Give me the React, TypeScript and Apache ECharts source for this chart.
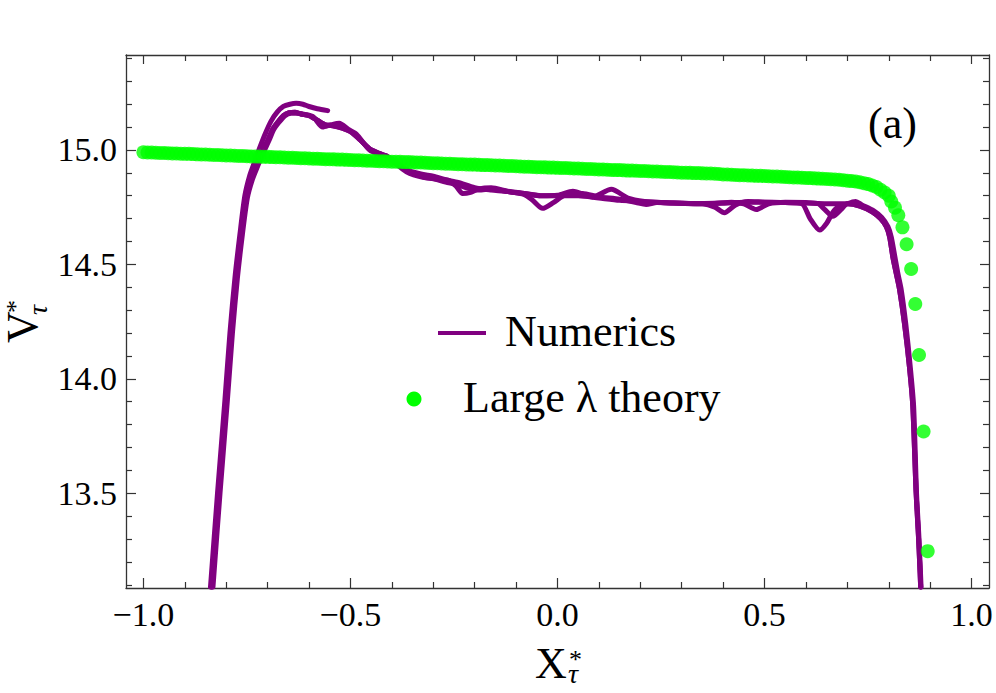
import React, { useEffect, useRef } from "react";
import * as echarts from "echarts";

// ---------- data ----------
const X_MIN = -1.042;
const X_MAX = 1.042;
const Y_MIN = 13.086;
const Y_MAX = 15.415;

const xMajorTicks = [-1.0, -0.5, 0.0, 0.5, 1.0];
const xMinorTicks = [-0.9, -0.8, -0.7, -0.6, -0.4, -0.3, -0.2, -0.1, 0.1, 0.2, 0.3, 0.4, 0.6, 0.7, 0.8, 0.9];
const yMajorTicks = [13.5, 14.0, 14.5, 15.0];
const yMinorTicks = [13.1, 13.2, 13.3, 13.4, 13.6, 13.7, 13.8, 13.9, 14.1, 14.2, 14.3, 14.4, 14.6, 14.7, 14.8, 14.9, 15.1, 15.2, 15.3, 15.4];

// Large lambda theory (green dots)
const theoryX = [
  -1.0, -0.99, -0.98, -0.97, -0.96, -0.95, -0.94, -0.93, -0.92, -0.91,
  -0.9, -0.89, -0.88, -0.87, -0.86, -0.85, -0.84, -0.83, -0.82, -0.81,
  -0.8, -0.79, -0.78, -0.77, -0.76, -0.75, -0.74, -0.73, -0.72, -0.71,
  -0.7, -0.69, -0.68, -0.67, -0.66, -0.65, -0.64, -0.63, -0.62, -0.61,
  -0.6, -0.59, -0.58, -0.57, -0.56, -0.55, -0.54, -0.53, -0.52, -0.51,
  -0.5, -0.49, -0.48, -0.47, -0.46, -0.45, -0.44, -0.43, -0.42, -0.41,
  -0.4, -0.39, -0.38, -0.37, -0.36, -0.35, -0.34, -0.33, -0.32, -0.31,
  -0.3, -0.29, -0.28, -0.27, -0.26, -0.25, -0.24, -0.23, -0.22, -0.21,
  -0.2, -0.19, -0.18, -0.17, -0.16, -0.15, -0.14, -0.13, -0.12, -0.11,
  -0.1, -0.09, -0.08, -0.07, -0.06, -0.05, -0.04, -0.03, -0.02, -0.01,
  0.0, 0.01, 0.02, 0.03, 0.04, 0.05, 0.06, 0.07, 0.08, 0.09,
  0.1, 0.11, 0.12, 0.13, 0.14, 0.15, 0.16, 0.17, 0.18, 0.19,
  0.2, 0.21, 0.22, 0.23, 0.24, 0.25, 0.26, 0.27, 0.28, 0.29,
  0.3, 0.31, 0.32, 0.33, 0.34, 0.35, 0.36, 0.37, 0.38, 0.39,
  0.4, 0.41, 0.42, 0.43, 0.44, 0.45, 0.46, 0.47, 0.48, 0.49,
  0.5, 0.51, 0.52, 0.53, 0.54, 0.55, 0.56, 0.57, 0.58, 0.59,
  0.6, 0.61, 0.62, 0.63, 0.64, 0.65, 0.66, 0.67, 0.68, 0.69,
  0.7, 0.71, 0.72, 0.73, 0.74, 0.75, 0.76, 0.77, 0.78, 0.79,
  0.8, 0.806, 0.815, 0.823, 0.833, 0.843, 0.854, 0.864, 0.873, 0.884, 0.894,
];
const theoryY = [
  14.99, 14.989, 14.989, 14.988, 14.987, 14.987, 14.986, 14.985, 14.985, 14.984,
  14.983, 14.983, 14.982, 14.981, 14.98, 14.98, 14.979, 14.978, 14.978, 14.977,
  14.976, 14.976, 14.975, 14.974, 14.974, 14.973, 14.972, 14.972, 14.971, 14.97,
  14.97, 14.969, 14.968, 14.968, 14.967, 14.966, 14.966, 14.965, 14.964, 14.964,
  14.963, 14.962, 14.962, 14.961, 14.96, 14.96, 14.959, 14.958, 14.958, 14.957,
  14.956, 14.955, 14.955, 14.954, 14.953, 14.953, 14.952, 14.951, 14.951, 14.95,
  14.949, 14.949, 14.948, 14.947, 14.947, 14.946, 14.945, 14.945, 14.944, 14.943,
  14.942, 14.942, 14.941, 14.94, 14.94, 14.939, 14.938, 14.938, 14.937, 14.936,
  14.936, 14.935, 14.934, 14.934, 14.933, 14.932, 14.932, 14.931, 14.93, 14.93,
  14.929, 14.928, 14.927, 14.927, 14.926, 14.925, 14.925, 14.924, 14.923, 14.923,
  14.922, 14.921, 14.921, 14.92, 14.919, 14.919, 14.918, 14.917, 14.917, 14.916,
  14.915, 14.915, 14.914, 14.913, 14.912, 14.912, 14.911, 14.91, 14.91, 14.909,
  14.908, 14.908, 14.907, 14.906, 14.906, 14.905, 14.904, 14.904, 14.903, 14.902,
  14.901, 14.901, 14.9, 14.899, 14.899, 14.898, 14.897, 14.897, 14.896, 14.895,
  14.893, 14.893, 14.892, 14.891, 14.89, 14.89, 14.889, 14.888, 14.887, 14.887,
  14.886, 14.885, 14.884, 14.884, 14.883, 14.882, 14.881, 14.88, 14.88, 14.879,
  14.878, 14.877, 14.876, 14.875, 14.874, 14.873, 14.872, 14.871, 14.87, 14.868,
  14.866, 14.864, 14.862, 14.859, 14.855, 14.851, 14.845, 14.838, 14.826, 14.814,
  14.8, 14.775, 14.748, 14.715, 14.662, 14.588, 14.48, 14.327, 14.104, 13.77, 13.247,
];

// Numerics (purple curves)
const numericsA: [number, number][] = [
  [-0.835, 13.09], [-0.818, 13.5], [-0.8, 13.91], [-0.788, 14.2], [-0.776, 14.44], [-0.764, 14.63], [-0.752, 14.79],
  [-0.74, 14.87], [-0.728, 14.92], [-0.714, 14.99], [-0.7, 15.04], [-0.688, 15.09], [-0.676, 15.12], [-0.662, 15.15],
  [-0.648, 15.163], [-0.634, 15.165], [-0.62, 15.157], [-0.6, 15.15], [-0.58, 15.13], [-0.56, 15.11], [-0.54, 15.105],
  [-0.527, 15.1], [-0.5, 15.08], [-0.48, 15.05], [-0.454, 15.005], [-0.43, 14.985], [-0.414, 14.975], [-0.39, 14.945],
  [-0.365, 14.91], [-0.345, 14.895], [-0.325, 14.883], [-0.3, 14.875], [-0.27, 14.86], [-0.245, 14.85], [-0.22, 14.835],
  [-0.19, 14.825], [-0.16, 14.83], [-0.12, 14.818], [-0.08, 14.81], [-0.04, 14.8], [0.0, 14.8], [0.05, 14.8],
  [0.1, 14.79], [0.15, 14.78], [0.2, 14.775], [0.25, 14.77], [0.3, 14.767], [0.35, 14.765], [0.4, 14.767],
  [0.45, 14.772], [0.5, 14.772], [0.55, 14.77], [0.6, 14.768], [0.65, 14.765], [0.7, 14.765], [0.73, 14.755],
  [0.76, 14.73], [0.78, 14.7], [0.794, 14.665], [0.802, 14.62], [0.81, 14.53], [0.818, 14.46], [0.826, 14.39],
  [0.838, 14.24], [0.85, 14.05], [0.858, 13.88], [0.866, 13.5], [0.872, 13.3], [0.877, 13.09],
];
const numericsB: [number, number][] = [
  [-0.832, 13.09], [-0.815, 13.5], [-0.797, 13.91], [-0.785, 14.2], [-0.773, 14.44], [-0.761, 14.63], [-0.749, 14.79],
  [-0.737, 14.87], [-0.724, 14.93], [-0.71, 14.99], [-0.697, 15.04], [-0.685, 15.09], [-0.673, 15.12], [-0.658, 15.15],
  [-0.643, 15.16], [-0.628, 15.16], [-0.61, 15.155], [-0.59, 15.145], [-0.567, 15.1], [-0.547, 15.11], [-0.527, 15.117],
  [-0.505, 15.09], [-0.486, 15.07], [-0.454, 15.0], [-0.43, 14.98], [-0.414, 14.975], [-0.39, 14.94], [-0.365, 14.905],
  [-0.325, 14.88], [-0.29, 14.872], [-0.262, 14.866], [-0.245, 14.842], [-0.229, 14.81], [-0.21, 14.815], [-0.19, 14.83],
  [-0.16, 14.835], [-0.12, 14.82], [-0.08, 14.81], [-0.04, 14.8], [0.0, 14.802], [0.037, 14.82], [0.085, 14.795],
  [0.13, 14.828], [0.17, 14.79], [0.21, 14.775], [0.25, 14.77], [0.3, 14.767], [0.35, 14.765], [0.38, 14.75],
  [0.403, 14.726], [0.43, 14.76], [0.46, 14.775], [0.5, 14.772], [0.55, 14.77], [0.59, 14.765], [0.61, 14.7],
  [0.633, 14.65], [0.65, 14.68], [0.67, 14.74], [0.7, 14.765], [0.72, 14.775], [0.735, 14.76], [0.763, 14.735],
  [0.783, 14.705], [0.798, 14.665], [0.806, 14.62], [0.815, 14.53], [0.822, 14.46], [0.83, 14.39], [0.841, 14.24],
  [0.852, 14.05], [0.86, 13.88], [0.867, 13.5], [0.873, 13.3], [0.878, 13.09],
];
const numericsC: [number, number][] = [
  [-0.838, 13.09], [-0.821, 13.5], [-0.803, 13.91], [-0.791, 14.2], [-0.779, 14.44], [-0.767, 14.63], [-0.755, 14.8],
  [-0.743, 14.89], [-0.731, 14.95], [-0.719, 15.01], [-0.706, 15.07], [-0.692, 15.125], [-0.677, 15.165],
  [-0.662, 15.19], [-0.646, 15.2], [-0.631, 15.204], [-0.615, 15.2], [-0.6, 15.19], [-0.58, 15.18], [-0.555, 15.172],
];
const numericsD: [number, number][] = [
  [-0.835, 13.09], [-0.818, 13.5], [-0.8, 13.91], [-0.788, 14.2], [-0.776, 14.44], [-0.764, 14.63], [-0.752, 14.79],
  [-0.74, 14.87], [-0.728, 14.92], [-0.714, 14.99], [-0.7, 15.04], [-0.688, 15.09], [-0.676, 15.12], [-0.662, 15.15],
  [-0.648, 15.163], [-0.634, 15.165], [-0.62, 15.157], [-0.6, 15.15], [-0.58, 15.13], [-0.56, 15.11], [-0.54, 15.105],
  [-0.52, 15.095], [-0.5, 15.08], [-0.48, 15.05], [-0.454, 15.005], [-0.43, 14.985], [-0.4, 14.96], [-0.365, 14.915],
  [-0.33, 14.895], [-0.3, 14.885], [-0.27, 14.87], [-0.24, 14.858], [-0.2, 14.835], [-0.16, 14.825], [-0.12, 14.818],
  [-0.08, 14.805], [-0.06, 14.78], [-0.036, 14.745], [-0.01, 14.77], [0.02, 14.805], [0.06, 14.81], [0.1, 14.795],
  [0.15, 14.785], [0.19, 14.77], [0.214, 14.762], [0.24, 14.77], [0.28, 14.768], [0.33, 14.765], [0.38, 14.767],
  [0.42, 14.772], [0.45, 14.765], [0.48, 14.74], [0.51, 14.765], [0.55, 14.772], [0.6, 14.77], [0.63, 14.765],
  [0.645, 14.74], [0.665, 14.71], [0.685, 14.74], [0.7, 14.765], [0.73, 14.755], [0.76, 14.73], [0.78, 14.7],
  [0.794, 14.665], [0.802, 14.62], [0.81, 14.53], [0.818, 14.46], [0.826, 14.39], [0.838, 14.24], [0.85, 14.05],
  [0.858, 13.88], [0.866, 13.5], [0.872, 13.3], [0.877, 13.09],
];

const legendLabels = ["Numerics", "Large \u03bb theory"];
const panelLabel = "(a)";

// ---------- styles ----------
const PURPLE = "#800080";
const GREEN = "#00ff00";
const FRAME = "#333333";
const SERIF = "'Liberation Serif', 'Times New Roman', serif";

const fmt = (v: number) => (v < 0 ? "\u2212" : "") + Math.abs(v).toFixed(1);

function makeAxis(kind: "x" | "y", position: string, values: number[], len: number, labels: boolean, line: boolean) {
  return {
    type: "value",
    position,
    min: kind === "x" ? X_MIN : Y_MIN,
    max: kind === "x" ? X_MAX : Y_MAX,
    axisLine: { show: line, onZero: false, lineStyle: { color: FRAME, width: 1.3 } },
    axisTick: { show: true, inside: true, length: len, customValues: values, lineStyle: { color: FRAME, width: 1.2 } },
    axisLabel: {
      show: labels,
      customValues: values,
      formatter: fmt,
      color: "#000",
      fontFamily: SERIF,
      fontSize: 34,
      margin: 9,
    },
    splitLine: { show: false },
    axisPointer: { show: false },
  };
}

export default function App() {
  const ref = useRef<HTMLDivElement>(null);

  useEffect(() => {
    if (!ref.current) return;
    const chart = echarts.init(ref.current, undefined, { renderer: "svg" });

    const lineSeries = (name: string, data: [number, number][]) => ({
      name,
      type: "line",
      data,
      xAxisIndex: 0,
      yAxisIndex: 0,
      showSymbol: false,
      symbol: "none",
      smooth: 0.25,
      lineStyle: { color: PURPLE, width: 5, cap: "round", join: "round" },
      z: 2,
      silent: true,
    });

    const option = {
      animation: false,
      backgroundColor: "#ffffff",
      grid: { left: 126, right: 7, top: 55, bottom: 105, containLabel: false },
      xAxis: [
        makeAxis("x", "bottom", xMajorTicks, 10, true, true),
        makeAxis("x", "bottom", xMinorTicks, 6, false, false),
        makeAxis("x", "top", xMajorTicks, 9, false, true),
        makeAxis("x", "top", xMinorTicks, 6, false, false),
      ],
      yAxis: [
        makeAxis("y", "left", yMajorTicks, 10, true, true),
        makeAxis("y", "left", yMinorTicks, 6, false, false),
        makeAxis("y", "right", yMajorTicks, 9, false, true),
        makeAxis("y", "right", yMinorTicks, 6, false, false),
      ],
      series: [
        lineSeries("Numerics A", numericsA),
        lineSeries("Numerics B", numericsB),
        lineSeries("Numerics C", numericsC),
        lineSeries("Numerics D", numericsD),
        {
          name: legendLabels[1],
          type: "scatter",
          xAxisIndex: 0,
          yAxisIndex: 0,
          data: theoryX.map((x, i) => [x, theoryY[i]]),
          symbol: "circle",
          symbolSize: 14,
          itemStyle: { color: GREEN },
          z: 3,
          silent: true,
        },
      ],
      graphic: [
        // legend
        { type: "line", shape: { x1: 438, y1: 333, x2: 486, y2: 333 }, style: { stroke: PURPLE, lineWidth: 4 } },
        {
          type: "text",
          x: 505,
          y: 331,
          style: { text: legendLabels[0], font: `44px ${SERIF}`, fill: "#000", align: "left", verticalAlign: "middle" },
        },
        { type: "circle", shape: { cx: 414, cy: 399, r: 7.5 }, style: { fill: GREEN } },
        {
          type: "text",
          x: 463,
          y: 397,
          style: { text: legendLabels[1], font: `44px ${SERIF}`, fill: "#000", align: "left", verticalAlign: "middle" },
        },
        // panel label
        {
          type: "text",
          x: 868,
          y: 123,
          style: { text: panelLabel, font: `44px ${SERIF}`, fill: "#000", align: "left", verticalAlign: "middle" },
        },
        // x axis title
        {
          type: "text",
          x: 535,
          y: 663,
          style: { text: "X", font: `44px ${SERIF}`, fill: "#000", align: "left", verticalAlign: "middle" },
        },
        {
          type: "text",
          x: 569,
          y: 659,
          style: { text: "*", font: `26px ${SERIF}`, lineHeight: 10, fill: "#000", align: "left", verticalAlign: "middle" },
        },
        {
          type: "text",
          x: 568,
          y: 673,
          style: { text: "\u03c4", font: `italic 28px ${SERIF}`, lineHeight: 12, fill: "#000", align: "left", verticalAlign: "middle" },
        },
        // y axis title (rotated)
        {
          type: "group",
          x: 22,
          y: 343,
          rotation: Math.PI / 2,
          children: [
            {
              type: "text",
              x: 0,
              y: 0,
              style: { text: "V", font: `44px ${SERIF}`, lineHeight: 30, fill: "#000", align: "left", verticalAlign: "middle" },
            },
            {
              type: "text",
              x: 30,
              y: -7,
              style: { text: "*", font: `26px ${SERIF}`, lineHeight: 10, fill: "#000", align: "left", verticalAlign: "middle" },
            },
            {
              type: "text",
              x: 28,
              y: 15,
              style: { text: "\u03c4", font: `italic 28px ${SERIF}`, lineHeight: 12, fill: "#000", align: "left", verticalAlign: "middle" },
            },
          ],
        },
      ],
    };

    chart.setOption(option as any);
    return () => chart.dispose();
  }, []);

  return <div ref={ref} style={{ position: "fixed", left: 0, top: 0, width: 996, height: 693, background: "#fff" }} />;
}
